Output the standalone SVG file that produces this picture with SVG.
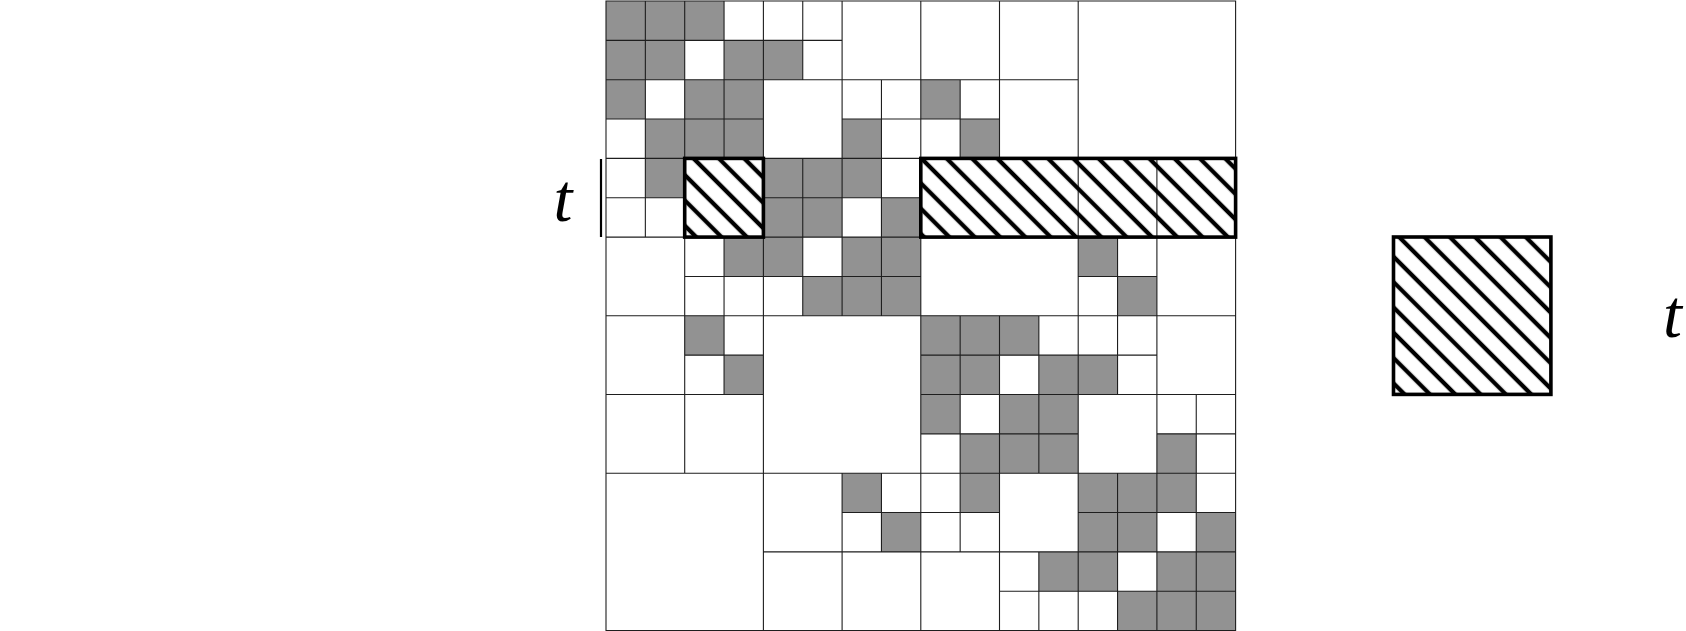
<svg xmlns="http://www.w3.org/2000/svg" width="1686" height="631" viewBox="0 0 1686 631">
<style>
.grayc{fill:#929292;stroke:none}
.grid{fill:none;stroke:#1e1e1e;stroke-width:1.1;vector-effect:non-scaling-stroke}
.hatchbox{stroke:#000;stroke-width:3.6}
.lbl{font-family:"Liberation Serif","DejaVu Serif",serif;font-style:italic;font-size:68px;fill:#000}
</style>
<defs>
<pattern id="hatchA" patternUnits="userSpaceOnUse" x="0" y="6.46" width="20" height="17.9" patternTransform="rotate(45)">
<line x1="-1" y1="8.95" x2="21" y2="8.95" stroke="#000" stroke-width="4.3"/>
</pattern>
<pattern id="hatchB" patternUnits="userSpaceOnUse" x="0" y="-7.32" width="20" height="17.9" patternTransform="rotate(45)">
<line x1="-1" y1="8.95" x2="21" y2="8.95" stroke="#000" stroke-width="4.3"/>
</pattern>
</defs>
<rect width="1686" height="631" fill="#fff"/>
<g id="grid" transform="translate(606,1) scale(39.35)">
<path id="gray-cells" class="grayc" d="M0 0h3v1h-3z M0 1h2v1h-2z M3 1h2v1h-2z M0 2h1v1h-1z M2 2h2v1h-2z M8 2h1v1h-1z M1 3h3v1h-3z M6 3h1v1h-1z M9 3h1v1h-1z M1 4h1v1h-1z M4 4h3v1h-3z M4 5h2v1h-2z M7 5h1v1h-1z M3 6h2v1h-2z M6 6h2v1h-2z M12 6h1v1h-1z M5 7h3v1h-3z M13 7h1v1h-1z M2 8h1v1h-1z M8 8h3v1h-3z M3 9h1v1h-1z M8 9h2v1h-2z M11 9h2v1h-2z M8 10h1v1h-1z M10 10h2v1h-2z M9 11h3v1h-3z M14 11h1v1h-1z M6 12h1v1h-1z M9 12h1v1h-1z M12 12h3v1h-3z M7 13h1v1h-1z M12 13h2v1h-2z M15 13h1v1h-1z M11 14h2v1h-2z M14 14h2v1h-2z M13 15h3v1h-3z"/>
<path id="grid-lines" class="grid" d="M0 0H16V16H0Z M8 0V16 M0 8H16 M4 0V16 M12 0V16 M0 4H16 M0 12H16
M2 0v4 M0 2h4 M6 0v4 M4 2h4 M2 4v4 M0 6h4 M6 4v4 M4 6h4 M10 0v4 M8 2h4 M14 4v4 M12 6h4
M2 8v4 M0 10h4 M6 12v4 M4 14h4 M10 8v4 M8 10h4 M14 8v4 M12 10h4 M10 12v4 M8 14h4 M14 12v4 M12 14h4
M1 0v2 M0 1h2 M3 0v2 M2 1h2 M1 2v2 M0 3h2 M3 2v2 M2 3h2 M5 0v2 M4 1h2 M7 2v2 M6 3h2 M1 4v2 M0 5h2 M3 6v2 M2 7h2
M5 4v2 M4 5h2 M7 4v2 M6 5h2 M5 6v2 M4 7h2 M7 6v2 M6 7h2
M9 2v2 M8 3h2 M13 6v2 M12 7h2 M3 8v2 M2 9h2 M7 12v2 M6 13h2
M9 8v2 M8 9h2 M11 8v2 M10 9h2 M9 10v2 M8 11h2 M11 10v2 M10 11h2 M13 8v2 M12 9h2 M15 10v2 M14 11h2
M9 12v2 M8 13h2 M11 14v2 M10 15h2 M13 12v2 M12 13h2 M15 12v2 M14 13h2 M13 14v2 M12 15h2 M15 14v2 M14 15h2"/>
</g>
<g id="hatch-small">
<rect x="684.7" y="158.4" width="78.7" height="78.7" fill="url(#hatchA)" class="hatchbox"/>
</g>
<g id="hatch-row">
<rect x="920.8" y="158.4" width="314.8" height="78.7" fill="url(#hatchA)" class="hatchbox"/>
</g>
<g id="label-left">
<line x1="601" y1="159" x2="601" y2="237" stroke="#000" stroke-width="2.2"/>
<text class="lbl" x="563" y="220.5" text-anchor="middle">t</text>
</g>
<g id="hatch-box">
<rect x="1393.5" y="237" width="157.4" height="157.4" fill="url(#hatchB)" class="hatchbox"/>
</g>
<g id="label-right">
<text class="lbl" x="1672.5" y="337" text-anchor="middle">t</text>
</g>
</svg>
